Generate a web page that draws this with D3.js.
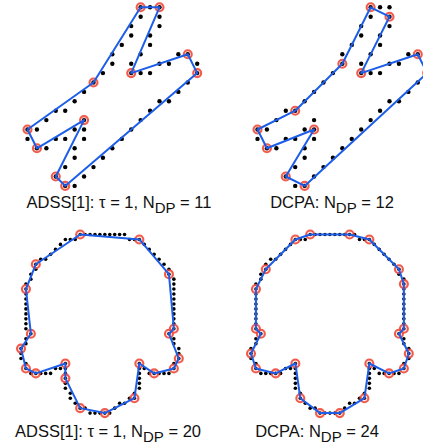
<!DOCTYPE html>
<html>
<head>
<meta charset="utf-8">
<script src="https://cdn.jsdelivr.net/npm/d3@7"></script>
<style>
  body { margin: 0; background: #fff; }
  text { font-family: "Liberation Sans", Arial, Helvetica, sans-serif; }
</style>
</head>
<body>
<svg id="chart" width="423" height="446"></svg>
<script>
// digital curves as [col, row] grid points, traced in order (closed)
const curveTop = [
  [12,0],[13,0],[14,0],[14,1],[14,2],[13,3],[13,4],[12,5],[11,6],[11,7],[12,7],[13,7],
  [14,6],[15,6],[16,5],[17,5],[18,6],[18,7],[17,8],[16,9],[15,10],[14,10],[13,11],[12,12],
  [11,13],[10,14],[9,15],[8,16],[7,17],[6,18],[5,19],[4,19],[3,18],[4,17],[5,16],[5,15],
  [6,14],[6,13],[6,12],[5,13],[4,14],[3,14],[2,15],[1,15],[0,14],[0,13],[1,13],[2,12],
  [3,11],[4,11],[5,10],[6,9],[7,8],[8,7],[9,6],[9,5],[10,4],[11,3],[11,2],[12,1]
];
const dpTopADSS = [[12,0],[14,0],[11,7],[17,5],[18,7],[4,19],[3,18],[6,12],[1,15],[0,13],[7,8]];
const dpTopDCPA = [[12,0],[14,1],[11,7],[17,5],[18,7],[5,19],[3,18],[6,13],[1,15],[0,13],[4,11],[9,6]];

const curveBottom = [
  [12,0],[13,0],[14,0],[15,0],[16,0],[17,0],[18,0],[19,0],[20,0],[21,0],[22,1],[23,1],[24,1],
  [25,2],[26,3],[27,4],[28,5],[29,6],[30,7],[30,8],[31,9],[31,10],[31,11],[31,12],[31,13],
  [31,14],[31,15],[31,16],[31,17],[31,18],[31,19],
  [30,20],[31,21],[31,22],[32,23],[32,24],[32,25],[31,26],[31,27],
  [30,28],[29,28],[28,28],[27,28],[26,28],[25,27],[24,26],
  [24,27],[24,28],[24,29],[24,30],[24,31],[23,32],[23,33],
  [22,33],[21,34],[20,34],[19,35],[18,36],[17,36],[16,36],[15,36],[14,36],[13,35],[12,35],
  [11,34],[10,33],[10,32],[9,31],[9,30],[9,29],[9,28],[9,27],[9,26],
  [8,27],[7,27],[6,28],[5,28],[4,28],[3,28],[2,28],[1,27],
  [1,26],[0,25],[0,24],[0,23],[1,22],[1,21],[2,20],[1,19],
  [1,18],[1,17],[1,16],[1,15],[1,14],[1,13],[1,12],[1,11],[1,10],[2,9],[2,8],[3,7],[3,6],
  [4,5],[5,5],[6,4],[7,3],[8,2],[9,1],[10,1],[11,1]
];
const dpBottomADSS = [[12,0],[24,1],[30,8],[31,19],[30,20],[32,25],[31,27],[27,28],[24,26],[23,33],
  [17,36],[12,35],[9,29],[9,26],[3,28],[1,27],[0,23],[2,20],[1,11],[3,6]];
const dpBottomDCPA = [[12,0],[20,0],[24,1],[30,7],[31,10],[31,19],[30,20],[32,24],[31,27],[28,28],
  [24,26],[23,33],[18,36],[14,36],[10,33],[9,26],[5,28],[1,27],[0,24],[2,20],[1,19],[1,11],[3,7],[9,1]];

const methodLabels = ['ADSS[1]: \u03c4 = 1, N', 'DCPA: N', 'ADSS[1]: \u03c4 = 1, N', 'DCPA: N'];
const subLabel = 'DP';

const svg = d3.select('#chart');

const topX = d3.scaleLinear().domain([0, 18]).range([27.5, 197.2]);
const topY = d3.scaleLinear().domain([0, 19]).range([7.3, 185.9]);
const botX = d3.scaleLinear().domain([0, 32]).range([21, 178.8]);
const botY = d3.scaleLinear().domain([0, 36]).range([234.5, 413.1]);

const panels = [
  { curve: curveTop, dps: dpTopADSS, x: topX, y: topY, dx: 0, lx: 119, ly: 208, dotR: 2.2 },
  { curve: curveTop, dps: dpTopDCPA, x: topX, y: topY, dx: 230, lx: 102, ly: 208, dotR: 2.2 },
  { curve: curveBottom, dps: dpBottomADSS, x: botX, y: botY, dx: 0, lx: 108, ly: 437, dotR: 1.8 },
  { curve: curveBottom, dps: dpBottomDCPA, x: botX, y: botY, dx: 230, lx: 87, ly: 437, dotR: 1.8 }
];

panels.forEach((p, i) => {
  const g = svg.append('g').attr('transform', `translate(${p.dx},0)`);

  // curve points
  g.append('g').selectAll('circle')
    .data(p.curve)
    .enter()
    .append('circle')
    .attr('cx', d => p.x(d[0]))
    .attr('cy', d => p.y(d[1]))
    .attr('r', p.dotR)
    .attr('fill', '#000');

  // dominant points
  g.append('g').selectAll('circle')
    .data(p.dps)
    .enter()
    .append('circle')
    .attr('cx', d => p.x(d[0]))
    .attr('cy', d => p.y(d[1]))
    .attr('r', 4)
    .attr('fill', 'rgba(240,80,60,0.12)')
    .attr('stroke', '#f04a38')
    .attr('stroke-opacity', 0.9)
    .attr('stroke-width', 2.1);

  // polygonal approximation
  const line = d3.line()
    .x(d => p.x(d[0]))
    .y(d => p.y(d[1]))
    .curve(d3.curveLinearClosed);
  g.append('path')
    .datum(p.dps)
    .attr('d', line)
    .attr('fill', 'none')
    .attr('stroke', '#1c5ee8')
    .attr('stroke-width', 2)
    .attr('stroke-linejoin', 'round');

  // caption
  const t = g.append('text')
    .attr('x', p.lx)
    .attr('y', p.ly)
    .attr('text-anchor', 'middle')
    .attr('font-size', '16.5px')
    .attr('fill', '#111');
  t.append('tspan').text(methodLabels[i]);
  t.append('tspan').attr('dy', 5).attr('font-size', '15px').text(subLabel);
  t.append('tspan').attr('dy', -5).text(` = ${p.dps.length}`);
});
</script>
</body>
</html>
